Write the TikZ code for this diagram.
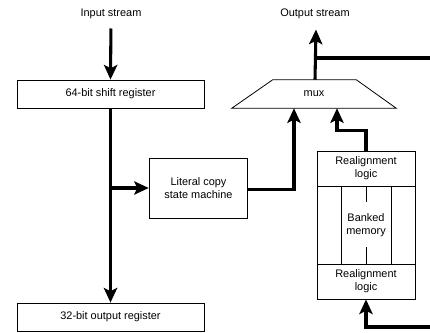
\documentclass[tikz,border=0pt]{standalone}
\usepackage{fontspec}
\setmainfont{Liberation Sans}
\usetikzlibrary{arrows.meta,calc}
\begin{document}
\begin{tikzpicture}[x=0.75pt,y=-0.75pt,
  font=\fontsize{8.2}{10}\selectfont,
  box/.style={draw,line width=0.6pt,rectangle,inner sep=0pt,align=center},
  lbl/.style={inner sep=1pt},
  bus/.style={line width=2.3pt},
  arr/.style={bus,-{Stealth[length=11pt,width=10pt,inset=2.5pt]}},
  thin/.style={line width=0.6pt}]
\useasboundingbox (0,0) rectangle (430,333);
% nodes
\node[lbl] (in) at (111,14) {Input stream};
\node[lbl] (out) at (315,14) {Output stream};
\node[box,minimum width=140.25pt,minimum height=21pt] (sr) at (110.5,94) {64-bit shift register};
\node[box,minimum width=140.25pt,minimum height=21pt] (outreg) at (110.5,317) {32-bit output register};
\node[box,minimum width=74pt,minimum height=45pt] (lit) at (198.5,188) {Literal copy\\state machine};
\node[inner sep=0pt,minimum width=123pt,minimum height=21pt] (mux) at (314,94) {mux};
\draw[thin] (mux.south west) -- (mux.south east) -- ($(mux.north east)+(-40,0)$) -- ($(mux.north west)+(41,0)$) -- cycle;
\node[box,minimum width=73.5pt,minimum height=26.25pt] (ra1) at (366,168.5) {Realignment\\logic};
\node[box,minimum width=73.5pt,minimum height=58.5pt] (bank) at (366,225) {Banked\\memory};
\node[box,minimum width=73.5pt,minimum height=26.25pt] (ra2) at (366,281.5) {Realignment\\logic};
\draw[thin] ($(bank.north west)+(25,0)$) -- ($(bank.south west)+(25,0)$);
\draw[thin] ($(bank.north east)+(-24,0)$) -- ($(bank.south east)+(-24,0)$);
\draw[thin] (bank.north) -- ++(0,16);
\draw[thin] (bank.south) -- ++(0,-17);
% connectors
\coordinate (fb1) at (430,58);
\coordinate (fb2) at (430,327);
\coordinate (mt) at ($(mux.north)+(1,0)$);
\coordinate (ot) at ($(out.south)+(1,9)$);
\draw[arr,shorten <=6pt] (in.south) -- (sr.north);
\draw[arr] (sr.south) -- (outreg.north);
\draw[arr] (sr.south |- lit.west) -- (lit.west);
\draw[arr] ($(lit.east)+(0,1.5)$) -| ($(mux.south)+(-20,0)$);
\draw[arr] (ra1.north) -- ++(0,-20) -| ($(mux.south)+(23,0)$);
\draw[arr] (mt) -- (ot);
\draw[bus] (mt |- fb1) -- (fb1);
\draw[arr] (fb2) -| (ra2.south);
\end{tikzpicture}
\end{document}
